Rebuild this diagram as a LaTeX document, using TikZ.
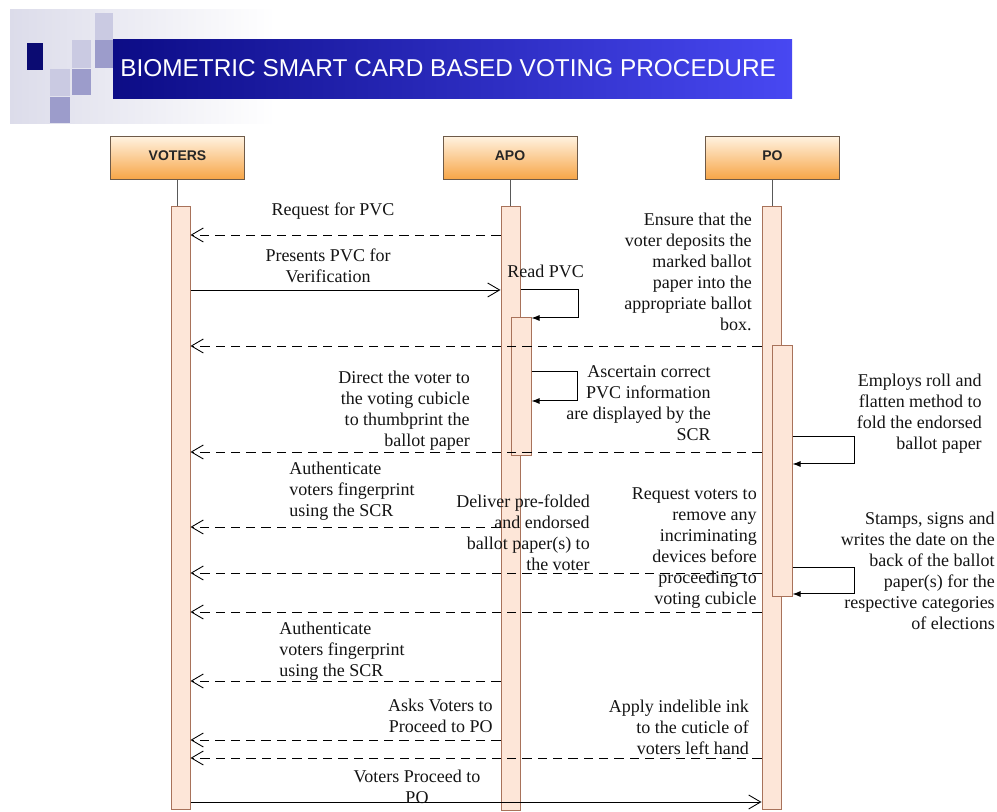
\documentclass[tikz,border=0pt]{standalone}
\usepackage{fontspec}
\setmainfont{Liberation Serif}
\newfontfamily\hdrfont{Liberation Sans}
\newfontfamily\lblfont{Liberation Serif}
\usetikzlibrary{arrows.meta}
\definecolor{barfill}{HTML}{FDE6D8}
\definecolor{barline}{HTML}{A8725A}
\definecolor{hdrtop}{HTML}{FFF1DE}
\definecolor{hdrbot}{HTML}{F7A444}
\definecolor{hdrline}{HTML}{6E5A48}
\definecolor{navy}{HTML}{0B0B72}
\definecolor{bandL}{HTML}{0C0C86}
\definecolor{bandR}{HTML}{4848F2}
\definecolor{sqmid}{HTML}{9C9CCB}
\definecolor{sqlight}{HTML}{CACAE2}
\definecolor{deco}{HTML}{DCDCEA}
\tikzset{
  hdrbox/.style={draw=hdrline, line width=0.75pt, top color=hdrtop, bottom color=hdrbot,
    minimum width=100.5pt, minimum height=32.25pt, inner sep=0, text height=7.5pt, text depth=4pt,
    font=\hdrfont\bfseries\fontsize{10.5pt}{12pt}\selectfont, text=black!85},
  actbar/.style={draw=barline, fill=barfill, line width=0.75pt, inner sep=0},
  life/.style={draw=black!65, line width=0.6pt},
  msg/.style={draw=black, line width=0.7pt, -{Straight Barb[length=9pt,width=10.5pt,line width=0.65pt]}},
  ret/.style={msg, dash pattern=on 7pt off 4.5pt},
  selfmsg/.style={draw=black, line width=0.75pt, -{Latex[length=6pt,width=4.5pt]}},
  lbl/.style={font=\lblfont\fontsize{13.5pt}{15.75pt}\selectfont, inner sep=0, text=black!92},
}
\begin{document}
\begin{tikzpicture}[x=0.75pt,y=-0.75pt]
\useasboundingbox (0,0) rectangle (997,812);
% decoration
\shade[left color=deco, right color=white] (10,10) rectangle (275,124);
\fill[sqlight] (72,40) rectangle (91,68);
\fill[sqlight] (95,13) rectangle (113,40);
\fill[sqlight] (50,69) rectangle (70,96);
\fill[navy] (27,43) rectangle (43,70);
\fill[sqmid] (95,40) rectangle (113,68);
\fill[sqmid] (72,69) rectangle (91,95);
\fill[sqmid] (50,97) rectangle (70,123);
\shade[left color=bandL, right color=bandR] (113,40) rectangle (792,99);
\node[anchor=west, inner sep=0, text=white, font=\hdrfont\fontsize{18.3pt}{20pt}\selectfont] (title) at (120,68) {BIOMETRIC SMART CARD BASED VOTING PROCEDURE};
% headers
\node[hdrbox] (voters) at (177.5,158.5) {VOTERS};
\node[hdrbox] (apo) at (510,158.5) {APO};
\node[hdrbox] (po) at (772.5,158.5) {PO};
% activation bars
\node[actbar, minimum width=14.25pt, minimum height=452.25pt] (vb) at (180.5,508.5) {};
\node[actbar, minimum width=14.25pt, minimum height=453pt] (ab) at (510.5,509) {};
\node[actbar, minimum width=15pt, minimum height=103.5pt] (ab2) at (521,387) {};
\node[actbar, minimum width=14.25pt, minimum height=452.25pt] (pb) at (771.5,508.5) {};
\node[actbar, minimum width=15pt, minimum height=188.25pt] (pb2) at (782,471.5) {};
% lifelines
\draw[life] (voters.south) -- (voters.south |- vb.north);
\draw[life] (apo.south) -- (apo.south |- ab.north);
\draw[life] (po.south) -- (po.south |- pb.north);
% messages
\draw[ret] (ab.west |- 0,235) -- (vb.east |- 0,235);
\draw[msg] (vb.east |- 0,290) -- (ab.west |- 0,290);
\draw[selfmsg] (ab.east |- 0,290) -| (578,318) -- (ab2.east |- 0,318);
\draw[ret] (pb.west |- 0,346) -- (vb.east |- 0,346);
\draw[selfmsg] (ab2.east |- 0,372) -| (577,401) -- (ab2.east |- 0,401);
\draw[ret] (pb.west |- 0,452) -- (vb.east |- 0,452);
\draw[selfmsg] (pb2.east |- 0,437) -| (854,464) -- (pb2.east |- 0,464);
\draw[ret] (ab.west |- 0,527) -- (vb.east |- 0,527);
\draw[ret] (pb.west |- 0,573) -- (vb.east |- 0,573);
\draw[selfmsg] (pb2.east |- 0,568) -| (854,594) -- (pb2.east |- 0,594);
\draw[ret] (pb.west |- 0,612) -- (vb.east |- 0,612);
\draw[ret] (ab.west |- 0,681) -- (vb.east |- 0,681);
\draw[ret] (ab.west |- 0,740) -- (vb.east |- 0,740);
\draw[ret] (pb.west |- 0,758) -- (vb.east |- 0,758);
\draw[msg] (vb.east |- 0,802) -- (pb.west |- 0,802);
% labels
\node[lbl, anchor=north] (l1) at (333,203) {Request for PVC};
\node[lbl, anchor=north, align=center] (l2) at (328,249) {Presents PVC for\\Verification};
\node[lbl, anchor=north west] (l3) at (507,265) {Read PVC};
\node[lbl, anchor=north east, align=right] (l4) at (752,213) {Ensure that the\\voter deposits the\\marked ballot\\paper into the\\appropriate ballot\\box.};
\node[lbl, anchor=north east, align=right] (l5) at (711,365) {Ascertain correct\\PVC information\\are displayed by the\\SCR};
\node[lbl, anchor=north east, align=right] (l6) at (470,371) {Direct the voter to\\the voting cubicle\\to thumbprint the\\ballot paper};
\node[lbl, anchor=north east, align=right] (l7) at (982,374) {Employs roll and\\flatten method to\\fold the endorsed\\ballot paper};
\node[lbl, anchor=north west, align=left] (l8) at (289,462) {Authenticate\\voters fingerprint\\using the SCR};
\node[lbl, anchor=north east, align=right] (l9) at (590,495) {Deliver pre-folded\\and endorsed\\ballot paper(s) to\\the voter};
\node[lbl, anchor=north east, align=right] (l10) at (757,487) {Request voters to\\remove any\\incriminating\\devices before\\proceeding to\\voting cubicle};
\node[lbl, anchor=north east, align=right] (l11) at (995,512) {Stamps, signs and\\writes the date on the\\back of the ballot\\paper(s) for the\\respective categories\\of elections};
\node[lbl, anchor=north west, align=left] (l12) at (279,622) {Authenticate\\voters fingerprint\\using the SCR};
\node[lbl, anchor=north east, align=right] (l13) at (493,699) {Asks Voters to\\Proceed to PO};
\node[lbl, anchor=north east, align=right] (l14) at (749,700) {Apply indelible ink\\to the cuticle of\\voters left hand};
\node[lbl, anchor=north, align=center] (l15) at (417,770) {Voters Proceed to\\PO};
\end{tikzpicture}
\end{document}
